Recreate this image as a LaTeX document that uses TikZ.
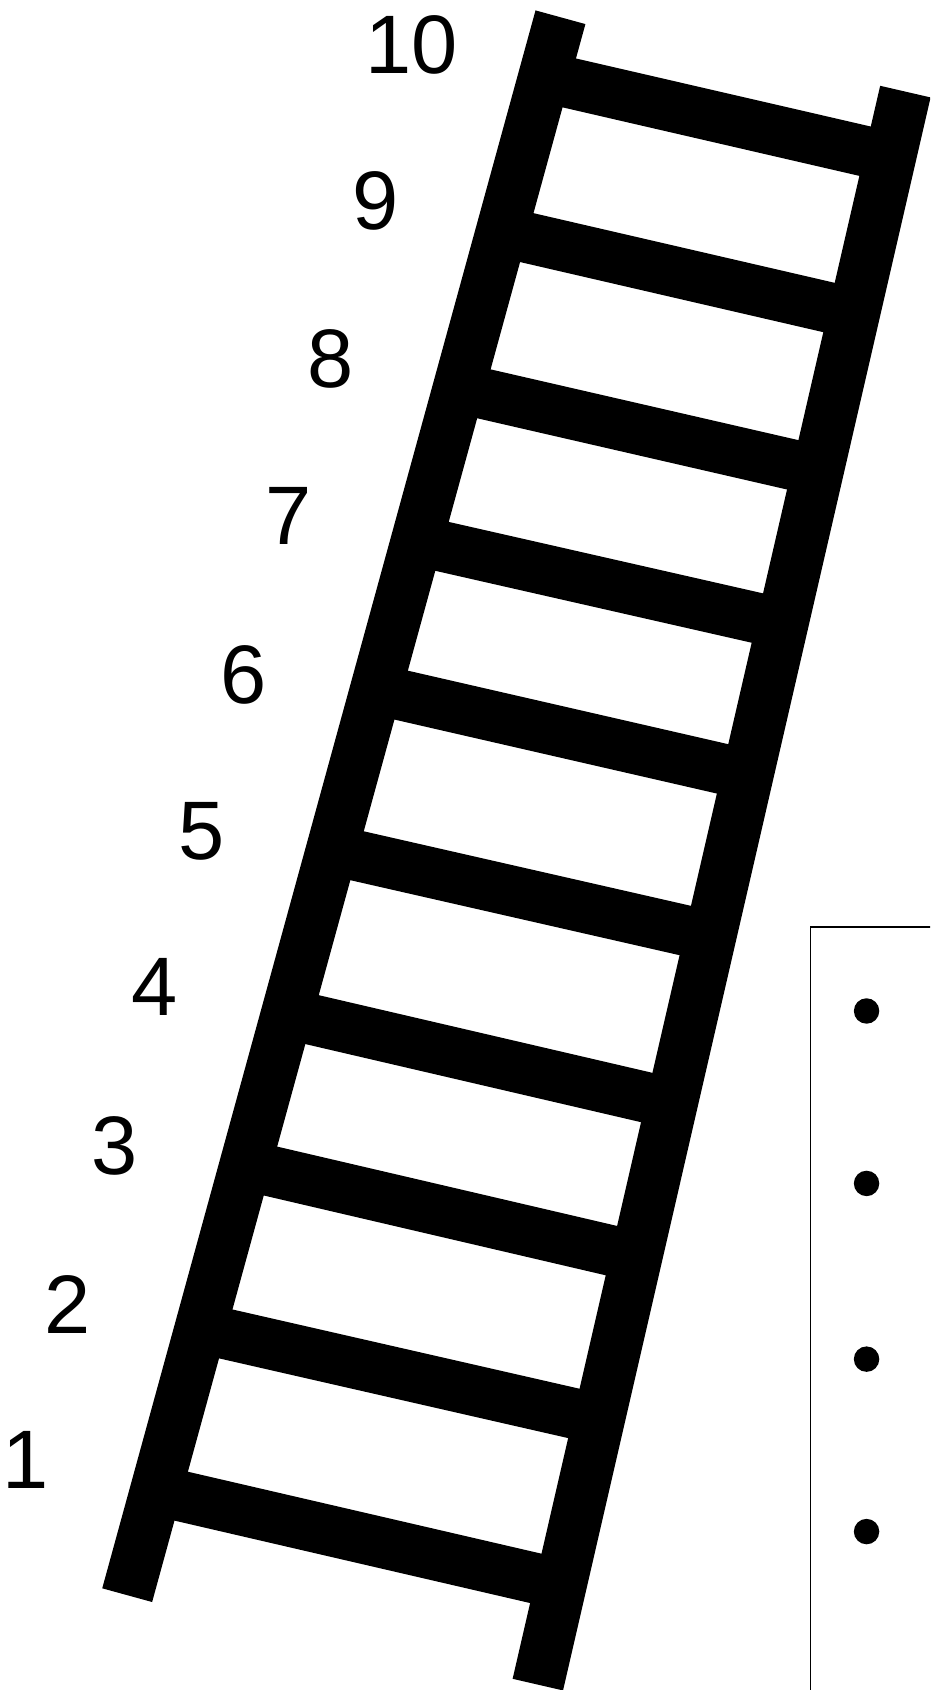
\documentclass[tikz,border=0pt]{standalone}
\usepackage{fontspec}
\setmainfont{Liberation Sans}
\usetikzlibrary{calc}
\begin{document}
\begin{tikzpicture}[x=1pt,y=-1pt,
  rail/.style={line width=48pt, line cap=butt},
  rung/.style={line width=47pt, line cap=butt},
  num/.style={font=\fontsize{77}{77}\selectfont, inner sep=0pt},
  panel/.style={line width=1.8pt}]
\useasboundingbox (0,0) rectangle (863,1568);
\clip (0,0) rectangle (863,1568);
% rails
\coordinate (lb) at (118,1480);
\coordinate (lt) at (520,16);
\coordinate (rb) at (499,1563);
\coordinate (rt) at (840,85);
\draw[rail] (lb) -- (lt);
\draw[rail] (rb) -- (rt);
% rungs
\foreach \i/\lx/\ly/\rx/\ry in {
  10/528.5/77/803.5/140.5,
  9/489/220.5/770/285.5,
  8/449.5/365.5/736.5/431.5,
  7/410.5/507/703/573.5,
  6/372.5/645/671/713.5,
  5/331.5/794/636.5/863.5,
  4/289.5/946/601/1018.5,
  3/251/1086.5/568/1160.5,
  2/209/1237.5/533/1311.5,
  1/167.5/1388/497.5/1464.5}{
  \coordinate (L\i) at (\lx,\ly);
  \coordinate (R\i) at (\rx,\ry);
  \draw[rung] ($(L\i)!-18pt!(R\i)$) -- ($(R\i)!-18pt!(L\i)$);
}
% labels
\node[num] (n10) at (382,42) {10};
\node[num] (n9) at (348,186) {9};
\node[num] (n8) at (307,333) {8};
\node[num] (n7) at (268,479) {7};
\node[num] (n6) at (226,626) {6};
\node[num] (n5) at (187,771) {5};
\node[num] (n4) at (143,916) {4};
\node[num] (n3) at (106,1063) {3};
\node[num] (n2) at (63,1210) {2};
\node[num] (n1) at (24,1355) {1};
% panel
\coordinate (pa) at (752,1590);
\coordinate (pb) at (752,860);
\coordinate (pc) at (880,860);
\draw[panel] (pa) -- (pb) -- (pc);
\foreach \y in {938,1098,1261,1421}
  \fill (804,\y) circle[radius=11.8pt];
\end{tikzpicture}
\end{document}
